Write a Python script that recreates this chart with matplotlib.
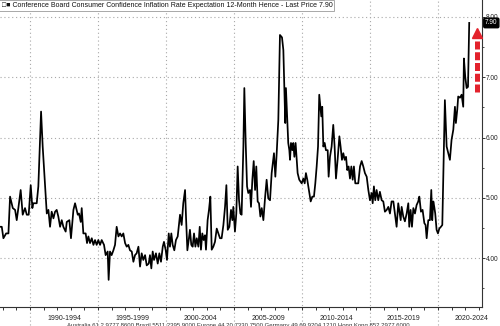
import matplotlib
matplotlib.use('Agg')
import matplotlib.pyplot as plt
from matplotlib.ticker import MultipleLocator

# decimal year
dates = [
    1987.79, 1987.92, 1988.04, 1988.24, 1988.41, 1988.53, 1988.73, 1988.90, 1989.02, 1989.14,
    1989.31, 1989.46, 1989.63, 1989.76, 1989.90, 1990.05, 1990.17, 1990.24, 1990.49, 1990.61,
    1990.81, 1990.93, 1991.05, 1991.23, 1991.35, 1991.47, 1991.59, 1991.72, 1991.84, 1991.96,
    1992.08, 1992.21, 1992.33, 1992.45, 1992.62, 1992.70, 1992.89,
    1993.01, 1993.19, 1993.31, 1993.51, 1993.60, 1993.73, 1993.80, 1993.92, 1994.09, 1994.19,
    1994.29, 1994.41, 1994.54, 1994.66, 1994.78, 1994.90, 1995.02, 1995.15, 1995.27, 1995.44,
    1995.56, 1995.71, 1995.78, 1995.88, 1996.00, 1996.13, 1996.25, 1996.37, 1996.50, 1996.62,
    1996.74, 1996.86, 1996.99, 1997.11, 1997.23, 1997.35, 1997.48, 1997.60, 1997.72,
    1997.84, 1997.97, 1998.09, 1998.21, 1998.33, 1998.46, 1998.58, 1998.73, 1998.82, 1998.92,
    1999.02, 1999.12, 1999.26, 1999.39, 1999.51, 1999.63, 1999.76, 1999.85, 1999.98, 2000.07,
    2000.20, 2000.29, 2000.39, 2000.49, 2000.61, 2000.73, 2000.86, 2001.03, 2001.15, 2001.27,
    2001.40, 2001.47, 2001.57, 2001.67, 2001.76, 2001.86, 2001.96, 2002.06, 2002.16,
    2002.26, 2002.38, 2002.48, 2002.57, 2002.67, 2002.77, 2002.87, 2002.94, 2003.06, 2003.16,
    2003.26, 2003.36, 2003.48, 2003.60, 2003.73, 2003.85, 2003.97, 2004.09, 2004.22, 2004.34,
    2004.44, 2004.54, 2004.66, 2004.78, 2004.88, 2004.95, 2005.07, 2005.17, 2005.27, 2005.37,
    2005.47, 2005.56, 2005.69, 2005.76, 2005.86, 2005.96, 2006.05, 2006.18, 2006.25, 2006.35,
    2006.45, 2006.55, 2006.64, 2006.74, 2006.84, 2006.94, 2007.04, 2007.16, 2007.28,
    2007.40, 2007.52, 2007.65, 2007.77, 2007.94, 2008.04, 2008.14, 2008.26, 2008.38, 2008.53,
    2008.63, 2008.70, 2008.77, 2008.82, 2008.92, 2008.99, 2009.07, 2009.12, 2009.19, 2009.29,
    2009.36, 2009.44, 2009.53, 2009.61, 2009.68, 2009.80, 2009.98, 2010.10, 2010.20, 2010.29,
    2010.39, 2010.51, 2010.64, 2010.76, 2010.88, 2010.98, 2011.08, 2011.18, 2011.27, 2011.35,
    2011.42, 2011.49, 2011.57, 2011.67, 2011.76, 2011.89, 2011.96, 2012.06, 2012.18, 2012.30,
    2012.40, 2012.50, 2012.62, 2012.75, 2012.84, 2012.94, 2013.04, 2013.14, 2013.24, 2013.33,
    2013.43, 2013.53, 2013.63, 2013.73, 2013.82, 2013.92, 2014.02, 2014.14, 2014.27, 2014.39,
    2014.51, 2014.63, 2014.76, 2014.88, 2015.00, 2015.12, 2015.20, 2015.29, 2015.39, 2015.49,
    2015.61, 2015.73, 2015.86, 2015.98, 2016.10, 2016.23, 2016.35, 2016.47, 2016.59,
    2016.72, 2016.96, 2017.08, 2017.26, 2017.33, 2017.45, 2017.57, 2017.70, 2017.82, 2017.89,
    2017.99, 2018.09, 2018.19, 2018.31, 2018.43, 2018.55, 2018.63, 2018.75, 2018.87, 2019.00,
    2019.09, 2019.17, 2019.29, 2019.41, 2019.51, 2019.58, 2019.66, 2019.73, 2019.80, 2019.90,
    2020.00, 2020.10, 2020.22, 2020.32, 2020.51, 2020.64, 2020.76, 2020.88, 2021.00, 2021.13,
    2021.25, 2021.32, 2021.42, 2021.49, 2021.62, 2021.74, 2021.86, 2021.91, 2022.01, 2022.11,
    2022.21, 2022.30,
]
# inflation expectation, %
values = [
    4.52, 4.52, 4.33, 4.41, 4.41, 5.02, 4.83, 4.80, 4.63, 4.83,
    5.13, 4.72, 4.83, 4.72, 4.72, 5.21, 4.83, 4.91, 4.91, 5.19,
    6.43, 5.85, 5.41, 4.74, 4.80, 4.52, 4.77, 4.66, 4.77, 4.80,
    4.69, 4.52, 4.63, 4.52, 4.44, 4.60, 4.63,
    4.33, 4.80, 4.91, 4.72, 4.74, 4.60, 4.83, 4.41, 4.41, 4.25,
    4.36, 4.25, 4.33, 4.22, 4.30, 4.22, 4.30, 4.22, 4.30, 4.22,
    4.05, 4.11, 3.64, 4.11, 4.05, 4.13, 4.22, 4.52, 4.36, 4.41,
    4.36, 4.41, 4.25, 4.19, 4.22, 4.13, 4.11, 3.94, 4.05,
    4.08, 4.19, 3.86, 4.08, 3.97, 4.05, 3.88, 3.91, 4.05, 3.83,
    4.11, 3.97, 4.08, 3.91, 4.08, 3.94, 4.19, 4.27, 4.13, 3.97,
    4.41, 4.19, 4.41, 4.22, 4.13, 4.30, 4.36, 4.72, 4.55, 4.91,
    5.13, 4.69, 4.13, 4.30, 4.47, 4.22, 4.19, 4.41, 4.19,
    4.33, 4.19, 4.52, 4.14, 4.41, 4.30, 4.38, 4.14, 4.63, 4.80,
    5.02, 4.14, 4.19, 4.27, 4.49, 4.41, 4.33, 4.33, 4.55, 4.85,
    5.21, 4.47, 4.52, 4.80, 4.63, 4.85, 4.44, 4.74, 5.52, 4.96,
    4.74, 4.72, 5.85, 6.82, 5.91, 5.19, 5.08, 5.13, 4.85, 5.30,
    5.61, 5.13, 5.52, 4.94, 4.91, 4.69, 4.83, 4.63, 4.99,
    5.30, 4.99, 4.96, 5.41, 5.74, 5.35, 5.74, 6.29, 7.70, 7.66,
    7.45, 6.84, 6.24, 6.82, 6.29, 5.91, 5.79, 5.63, 5.91, 5.79,
    5.91, 5.68, 5.91, 5.63, 5.41, 5.30, 5.24, 5.32, 5.24, 5.41,
    5.30, 5.13, 4.94, 5.02, 5.02, 5.24, 5.52, 5.85, 6.71, 6.51,
    6.35, 6.51, 5.85, 5.91, 5.79, 5.79, 5.35, 5.68, 5.85, 6.21,
    5.85, 5.32, 5.63, 6.02, 5.85, 5.63, 5.74, 5.63, 5.68, 5.46,
    5.52, 5.32, 5.52, 5.30, 5.52, 5.24, 5.24, 5.24, 5.52, 5.61,
    5.52, 5.41, 5.35, 5.13, 4.96, 5.08, 4.91, 5.19, 4.96, 5.13,
    4.96, 5.10, 4.96, 4.94, 4.77, 4.80, 4.85, 4.74, 4.94,
    4.94, 4.52, 4.91, 4.63, 4.85, 4.69, 4.61, 4.74, 4.91, 4.52,
    4.80, 4.52, 4.83, 4.74, 4.88, 4.94, 5.02, 4.77, 4.80, 4.58,
    4.55, 4.33, 4.63, 4.63, 5.13, 4.63, 4.94, 4.85, 4.74, 4.47,
    4.41, 4.49, 4.52, 4.55, 6.62, 5.85, 5.74, 5.63, 5.96, 6.13,
    6.51, 6.24, 6.46, 6.68, 6.66, 6.71, 6.51, 7.31, 7.00, 6.82,
    6.84, 7.90,
]

period_starts = [1990, 1995, 2000, 2005, 2010, 2015, 2020]
period_labels = ['1990-1994', '1995-1999', '2000-2004', '2005-2009',
                 '2010-2014', '2015-2019', '2020-2024']
y_ticks = [4, 5, 6, 7, 8]

title = ('\u25a1\u25a0 Conference Board Consumer Confidence Inflation Rate '
         'Expectation 12-Month Hence - Last Price 7.90')
footer = ('Australia 61 2 9777 8600 Brazil 5511 2395 9000 Europe 44 20 7330 7500 '
          'Germany 49 69 9204 1210 Hong Kong 852 2977 6000')

plt.rcParams['font.family'] = ['Liberation Sans', 'DejaVu Sans']
red = '#e3222c'
grid_col = '#a8a8a8'

fig = plt.figure(figsize=(5, 3.26), dpi=100)
ax = fig.add_axes([0, 19 / 326, 482 / 500, 307 / 326])
ax.set_xlim(1987.79, 2023.24)
ax.set_ylim(3.19, 8.28)

ax.plot(dates, values, color='black', lw=1.25, zorder=3)

# grid
for y in y_ticks:
    ax.axhline(y, color=grid_col, lw=0.8, ls=(0, (1, 2.5)), zorder=1)
for x in period_starts:
    ax.axvline(x, ymin=-18 / 307, ymax=1, color=grid_col, lw=0.8,
               ls=(0, (1, 2.5)), clip_on=False, zorder=1)

# spines / ticks
for s in ['left', 'top']:
    ax.spines[s].set_visible(False)
for s in ['right', 'bottom']:
    ax.spines[s].set_color('#333333')
    ax.spines[s].set_linewidth(0.8)

ax.yaxis.tick_right()
ax.set_yticks(y_ticks, labels=['%.2f' % y for y in y_ticks])
ax.yaxis.set_minor_locator(MultipleLocator(0.5))
ax.tick_params(axis='y', which='major', length=2.2, width=0.7, color='#333333',
               labelsize=4.7, pad=0.6, labelcolor='#222222')
ax.tick_params(axis='y', which='minor', length=1.6, width=0.6, color='#333333')

ax.set_xticks(range(1988, 2024), labels=[''] * 36)
ax.tick_params(axis='x', which='major', length=2.5, width=0.7, color='#333333')
ax.set_xticks([p + 2.5 for p in period_starts], labels=period_labels, minor=True)
ax.tick_params(axis='x', which='minor', length=0, labelsize=5, pad=5.5,
               labelcolor='#222222')

# last price tag
ax.annotate('%.2f' % values[-1], xy=(1, values[-1]),
            xycoords=('axes fraction', 'data'), xytext=(2.2, 0),
            textcoords='offset points', ha='left', va='center', fontsize=4.7,
            color='white', annotation_clip=False, zorder=6,
            bbox=dict(boxstyle='round,pad=0.2', fc='black', ec='black'))

# red dashed arrow
arrow_x = dates[-1] + 0.55
ax.plot([arrow_x, arrow_x], [values[-1] - 1.14, values[-1] - 0.24], color=red,
        lw=3.6, dashes=(1.6, 0.55), solid_capstyle='butt', zorder=4)
ax.plot([arrow_x], [values[-1] - 0.16], marker='^', ms=6.5, color=red,
        mec=red, zorder=4)

# title box and footer
fig.text(0.003, 0.993, title, ha='left', va='top', fontsize=5, color='#111111',
         bbox=dict(boxstyle='square,pad=0.3', fc='white', ec='#9a9a9a', lw=0.6),
         zorder=10)
fig.text(67 / 500, 1 - 322.5 / 326, footer, ha='left', va='top', fontsize=4.3,
         color='#333333')

fig.savefig('out.png', dpi=100)
